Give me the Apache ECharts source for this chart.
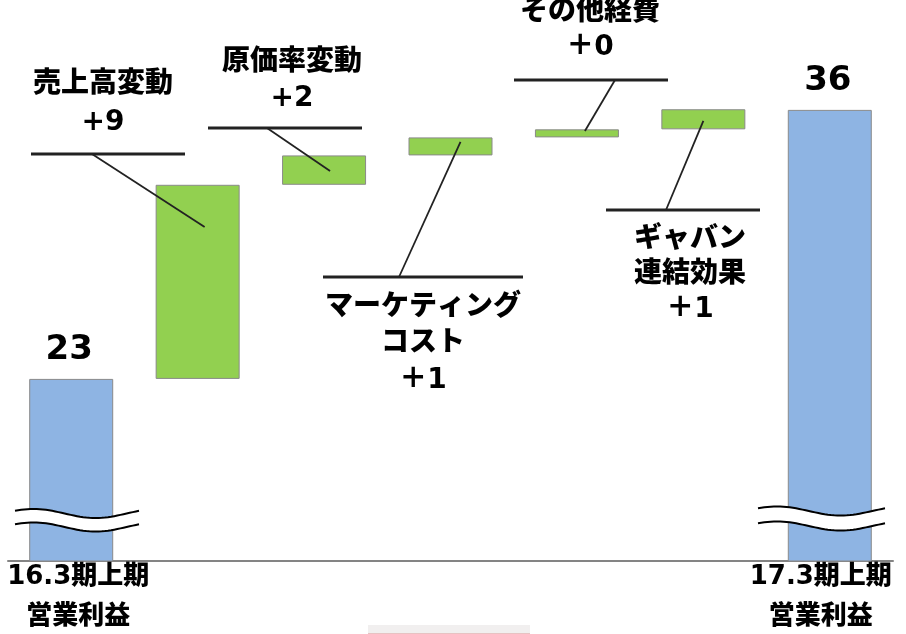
<!DOCTYPE html>
<html><head><meta charset="utf-8">
<script src="https://cdn.jsdelivr.net/npm/echarts@6/dist/echarts.min.js"></script>
<style>html,body{margin:0;padding:0;background:#fff}#c{width:906px;height:634px}</style>
</head><body><div id="c"></div>
<script>
// ---- data ----
const categories = ['16.3期上期\n営業利益', '売上高変動', '原価率変動', 'マーケティング\nコスト', 'その他経費', 'ギャバン\n連結効果', '17.3期上期\n営業利益'];
const values = [23, 9.38, 1.42, 0.87, 0.39, 0.97, 36];
const valueLabels = ['23', '+9', '+2', '＋1', '＋0', '＋1', '36'];
const isTotal = [true, false, false, false, false, false, true];

// ---- derived waterfall bases ----
const base = [];
let run = 0;
values.forEach((v, i) => {
  if (isTotal[i]) { base.push(0); run = v; }
  else { base.push(run); run += v; }
});

const FONT = '"DejaVu Sans", "Noto Sans CJK JP", sans-serif';
const WEIGHT = 900;
const chart = echarts.init(document.getElementById('c'), null, {renderer: 'canvas'});

const richBase = {fontSize: 26, fontWeight: WEIGHT, fontFamily: FONT, color: '#000', lineHeight: 40};
chart.setOption({
  animation: false,
  grid: {left: 8, right: 13, top: 0, bottom: 73, containLabel: false, outerBoundsMode: 'none'},
  xAxis: {
    type: 'category', data: categories,
    axisTick: {show: false},
    axisLine: {lineStyle: {color: '#848484', width: 2}},
    axisLabel: {
      interval: 0, margin: -4,
      formatter: (v, i) => isTotal[i] ? v.split('\n').map(s => '{' + (i === 0 ? 'l' : 'r') + '|' + s + '}').join('\n') : '',
      rich: {
        l: Object.assign({padding: [0, 0, 0, 14]}, richBase),
        r: Object.assign({padding: [0, 18, 0, 0]}, richBase)
      }
    }
  },
  yAxis: {type: 'value', min: 14.2, max: 41.31, show: false, splitLine: {show: false}},
  series: [
    {type: 'bar', stack: 'w', data: base, barWidth: 84, silent: true,
     itemStyle: {color: 'rgba(0,0,0,0)'}},
    {type: 'bar', stack: 'w', barWidth: 84,
     data: values.map((v, i) => ({value: v, itemStyle: {color: isTotal[i] ? '#8EB4E3' : '#92D050'}, label: {show: isTotal[i]}})),
     itemStyle: {borderColor: '#8a8a8a', borderWidth: 1},
     label: {position: 'top', distance: 12, formatter: p => valueLabels[p.dataIndex],
             fontSize: 34, fontWeight: WEIGHT, fontFamily: FONT, color: '#000', offset: [-2, 0]}}
  ]
});

// ---- annotations (layout only) ----
const annLayout = [
  {i: 1, tx: 103, ty: 66, lh: 38, line: [31, 185, 154], from: 92, end: [7, 30.34]},
  {i: 2, tx: 292, ty: 45, lh: 36, line: [208, 362, 128], from: 267, end: [6, 33.05]},
  {i: 3, tx: 423, ty: 289, lh: 36.5, line: [323, 523, 277], from: 399, end: [10, 34.45]},
  {i: 4, tx: 590, ty: -5, lh: 35, line: [514, 668, 80], from: 615, end: [8, 34.98]},
  {i: 5, tx: 690, ty: 222, lh: 35, line: [606, 760, 210], from: 666, end: [0, 35.47]}
];
const els = [];
annLayout.forEach(a => {
  els.push({type: 'text', x: a.tx, y: a.ty, z: 100, style: {
    text: categories[a.i] + '\n' + valueLabels[a.i],
    font: WEIGHT + ' 28px ' + FONT, fill: '#000', align: 'center', verticalAlign: 'top', lineHeight: a.lh}});
  els.push({type: 'line', z: 100, shape: {x1: a.line[0], y1: a.line[2], x2: a.line[1], y2: a.line[2]},
    style: {stroke: '#222', lineWidth: 2.8}});
  const p = chart.convertToPixel({gridIndex: 0}, [a.i, a.end[1]]);
  els.push({type: 'line', z: 100, shape: {x1: a.from, y1: a.line[2], x2: p[0] + a.end[0], y2: p[1]},
    style: {stroke: '#222', lineWidth: 1.8}});
});

// ---- axis break marks ----
function wave(x0, w, yc1, yc2) {
  const n = 40, up = [], lo = [];
  for (let k = 0; k <= n; k++) {
    const t = k / n;
    const dy = -4.5 * Math.sin(2 * Math.PI * (t + 0.1));
    up.push([x0 + t * w, yc1 + dy]);
    lo.push([x0 + t * w, yc2 + dy]);
  }
  els.push({type: 'polygon', z: 100, shape: {points: up.concat(lo.slice().reverse())}, style: {fill: '#fff'}});
  els.push({type: 'polyline', z: 101, shape: {points: up}, style: {stroke: '#000', lineWidth: 2, fill: null}});
  els.push({type: 'polyline', z: 101, shape: {points: lo}, style: {stroke: '#000', lineWidth: 2, fill: null}});
}
wave(15, 124, 513.5, 527);
wave(758, 127, 511, 526);

// small thumbnail artifact at the bottom
els.push({type: 'rect', z: 100, shape: {x: 368, y: 625, width: 162, height: 10}, style: {fill: '#f1efef'}});
els.push({type: 'line', z: 100, shape: {x1: 368, y1: 633.5, x2: 530, y2: 633.5}, style: {stroke: '#e7c2c2', lineWidth: 1}});

chart.setOption({graphic: {elements: els}});
</script>
</body></html>
